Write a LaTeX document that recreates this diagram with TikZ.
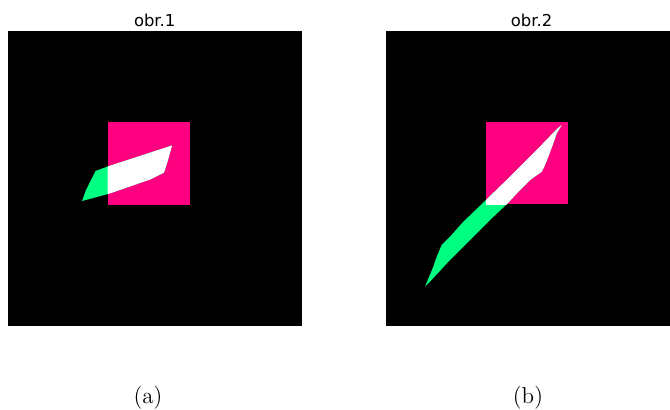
\documentclass[tikz,border=0pt]{standalone}
\usepackage{fontspec}
\newfontfamily\plotfont{DejaVu Sans}
\definecolor{roi}{RGB}{255,0,128}
\definecolor{blob}{RGB}{0,255,128}

\begin{document}
\begin{tikzpicture}[x=0.5pt, y=-0.5pt,
    title/.style={font=\plotfont\fontsize{8.2}{10}\selectfont, anchor=base, inner sep=0pt},
    caption/.style={font=\fontsize{11.5}{14}\selectfont, anchor=base, inner sep=0pt}
  ]
  \useasboundingbox (0,0) rectangle (670,409);

  % obr.1
  \fill[black] (7.5,31) rectangle (302,326);
  \fill[roi] (107.7,121.7) rectangle (190,204.5);
  \path[save path=\shapeone] (82,201) -- (86,190) -- (95.5,171) -- (107.7,166.5)
    -- (172,145.5) -- (168,160) -- (164,172.5) -- (150,179.5) -- (108,194) -- cycle;
  \fill[blob, use path=\shapeone];
  \begin{scope}
    \clip (107.7,121.7) rectangle (190,204.5);
    \fill[white, use path=\shapeone];
  \end{scope}
  \node[title] (t1) at (154.7,26) {obr.1};
  \node[caption] (a) at (148,403) {(a)};

  % obr.2
  \fill[black] (385.5,31) rectangle (670,326);
  \fill[roi] (486,121.7) rectangle (567.7,204.3);
  \path[save path=\shapetwo] (425,286.7) -- (433.3,266.7) -- (436.7,256.7)
    -- (441.7,245) -- (450,236.7) -- (463.3,221.7) -- (486,200) -- (510,176.7)
    -- (536.7,150) -- (556.7,129.3) -- (561.7,125) -- (556.7,133.3)
    -- (553.3,143.3) -- (548.3,156.7) -- (545,165) -- (541.7,171.7)
    -- (530,180) -- (520,190) -- (506.7,204.3) -- (490,220) -- (470,240)
    -- (450,260) -- (430,281.7) -- cycle;
  \fill[blob, use path=\shapetwo];
  \begin{scope}
    \clip (486,121.7) rectangle (567.7,204.3);
    \fill[white, use path=\shapetwo];
  \end{scope}
  \node[title] (t2) at (531.5,26) {obr.2};
  \node[caption] (b) at (528,403) {(b)};
\end{tikzpicture}
\end{document}
